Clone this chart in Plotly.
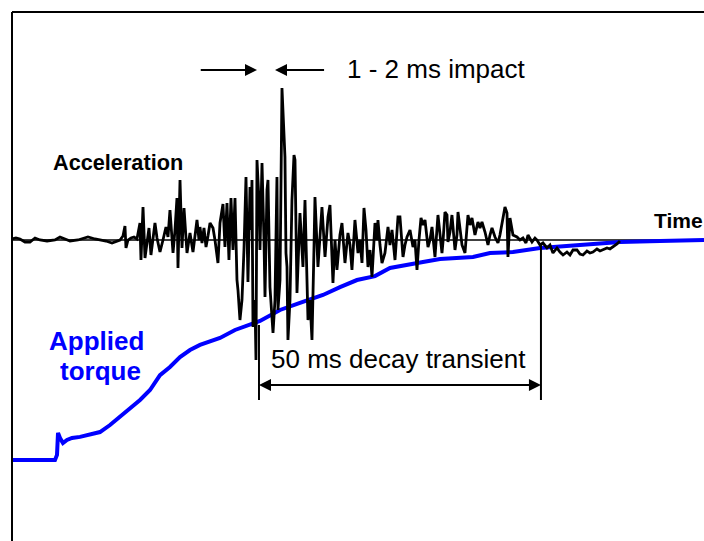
import plotly.graph_objects as go

# ---- Acceleration signal (time in ms, acceleration in arbitrary units) ----
accel_t = [0.00, 0.71, 1.42, 2.30, 3.19, 4.08, 4.96, 6.21, 7.62, 8.51, 9.40, 10.28, 11.70, 13.47, 14.72,
           15.60, 16.67, 17.73, 18.62, 19.15, 19.68, 20.03, 20.21, 20.57, 21.10, 21.63, 22.16, 22.69, 22.87,
           23.23, 23.58, 23.94, 24.29, 24.64, 25.00, 25.35, 25.71, 26.24, 26.77, 27.30, 27.66, 28.01, 28.55,
           28.90, 29.25, 29.43, 29.79, 30.14, 30.50, 31.03, 31.56, 32.09, 32.80, 33.16, 33.33, 33.69, 34.04,
           34.40, 34.75, 35.11, 35.64, 35.99, 36.52, 36.88, 37.41, 37.76, 38.12, 38.47, 38.83, 39.18, 39.54,
           39.89, 40.07, 40.42, 40.78, 41.13, 41.49, 41.84, 42.20, 42.37, 42.55, 42.73, 43.08, 43.26, 43.44,
           43.79, 43.97, 44.33, 44.68, 44.86, 45.21, 45.39, 45.74, 46.10, 46.28, 46.63, 46.98, 47.16, 47.52,
           47.87, 48.05, 48.40, 48.58, 48.76, 48.93, 49.29, 49.64, 50.00, 50.18, 50.53, 51.06, 51.59, 51.95,
           52.48, 52.84, 53.19, 53.54, 53.72, 54.25, 54.61, 54.96, 55.50, 56.03, 56.38, 56.74, 56.91, 57.27,
           57.62, 58.15, 58.51, 59.04, 59.57, 59.93, 60.28, 60.81, 61.35, 61.70, 62.06, 62.41, 62.77, 63.12,
           63.48, 63.83, 64.36, 64.72, 64.89, 65.25, 65.60, 66.13, 66.67, 67.02, 67.38, 67.91, 68.44, 68.79,
           69.15, 69.33, 69.68, 70.04, 70.57, 71.10, 71.45, 71.81, 72.16, 72.52, 72.87, 73.23, 73.76, 74.11,
           74.47, 75.00, 75.53, 75.89, 76.24, 76.42, 76.77, 77.13, 77.30, 77.66, 78.01, 78.55, 78.90, 79.08,
           79.43, 79.79, 80.32, 80.85, 81.21, 81.56, 82.09, 82.62, 82.98, 83.33, 83.87, 84.40, 84.75, 85.11,
           85.64, 86.17, 86.52, 86.88, 87.23, 87.41, 87.77, 87.94, 88.30, 88.65, 88.83, 89.54, 90.07, 90.60,
           91.13, 91.49, 92.20, 92.73, 93.09, 93.62, 94.15, 94.86, 95.39, 95.92, 96.63, 97.16, 97.70, 98.40,
           98.94, 99.47, 100.18, 100.71, 101.24, 101.95, 102.48, 103.01, 103.72, 104.26, 104.79, 105.50,
           106.03, 106.56, 107.27, 107.80]
accel_a = [0.1, 0.2, 0.1, -0.2, -0.2, 0.2, 0.0, -0.1, 0.0, 0.3, 0.1, -0.1, 0.0, 0.3, 0.1,
           0.0, -0.1, -0.3, -0.1, 0.0, 0.4, 1.4, -0.8, 0.0, 0.2, 0.3, 0.1, 1.7, -2.0,
           3.3, -1.8, 0.0, 1.2, -1.5, 0.4, 1.7, 0.2, -1.2, 0.0, 1.3, 0.3, 3.0, -1.3,
           1.0, 4.2, -2.8, 6.0, -0.8, 3.2, -1.3, 0.7, -1.2, 2.0, 0.0, 1.3, -0.3, 1.2,
           -0.7, 0.4, 1.7, 1.2, 0.0, -2.3, 1.7, 3.6, -0.7, 3.7, -2.0, 4.2, -1.0, 4.2,
           -4.0, -5.0, -8.0, -6.0, -1.0, 6.3, -4.2, 5.3, 1.0, 6.0, -8.7, -6.0, -12.0, 8.0,
           4.0, -1.0, 7.7, 0.0, -5.7, 5.0, 6.0, -4.7, -7.3, -9.3, -6.0, 6.3, -7.0, -4.0,
           15.2, 12.7, 8.3, -1.3, -2.7, -10.0, -6.0, 4.0, 8.5, 8.0, -5.3, 2.7, -2.7, 4.0,
           -8.0, -6.0, -10.0, -1.0, 4.3, -2.7, 0.0, 3.3, -1.7, 2.3, 3.5, -2.0, -4.3, 0.0,
           -3.0, 0.5, 1.7, -2.3, 0.7, -0.5, -3.0, 2.0, -1.3, 0.0, -2.3, 3.2, 1.0, -2.7,
           -1.0, -3.7, 1.7, 0.0, 2.0, -0.5, -2.3, -1.3, 1.3, -0.5, 1.0, -2.0, 2.3, 2.3,
           0.0, -1.7, -0.5, 0.3, 1.0, -0.7, 0.0, -3.0, 0.0, 2.2, 1.5, 2.0, -0.7, 0.0,
           1.3, -1.7, 2.5, 0.5, -1.3, -0.2, 2.8, 2.5, -0.2, 0.8, 2.5, -1.0, 0.5, 2.8,
           1.0, -0.5, -1.3, 2.5, 1.5, 2.2, 0.5, 1.8, 1.2, 1.8, 0.8, -0.5, 0.5, 1.2,
           0.3, -0.3, 0.5, 1.7, 3.0, 3.3, 2.7, -1.7, 2.2, 1.0, 0.5, 0.3, 0.0, 0.2,
           -0.3, 0.5, -0.2, 0.2, 0.0, -0.5, -0.3, -0.8, -0.5, -1.3, -0.8, -1.2, -1.5, -1.2,
           -1.5, -1.0, -1.0, -1.4, -1.5, -1.1, -1.3, -1.2, -0.9, -1.1, -1.0, -0.8,
           -0.9, -0.7, -0.4, -0.1]

# ---- Applied torque (time in ms, torque in % of final) ----
torque_t = [0.00, 7.62, 7.98, 8.16, 8.51, 9.04, 9.75, 10.64, 12.06, 13.83, 15.60, 17.38, 19.15, 20.92,
            22.70, 24.47, 25.35, 26.24, 28.01, 29.79, 31.56, 33.33, 36.88, 39.54, 43.97, 47.52, 51.06,
            55.14, 58.16, 61.17, 64.36, 67.02, 72.87, 75.89, 81.74, 84.75, 88.83, 93.62, 100.71, 107.80,
            114.89, 122.70]
torque_v = [0.0, 0.0, 2.3, 12.3, 10.0, 7.7, 9.1, 10.0, 10.5, 11.8, 12.7, 15.9, 19.5, 23.6,
            27.3, 31.8, 35.5, 38.6, 42.3, 46.8, 50.0, 52.3, 55.5, 59.1, 63.2, 68.2, 71.4,
            75.0, 78.6, 81.8, 83.6, 87.3, 90.0, 91.4, 92.3, 94.1, 94.5, 96.4, 97.7, 99.1,
            99.5, 100.0]

# ---- annotation values ----
impact_left = [33.2, 43.44]     # arrow from -> to (ms)
impact_right = [55.6, 46.63]
impact_level = 17.0
decay_start = 43.79
decay_ms = 50.0
decay_level = -14.5

FONT = "Liberation Sans, Arial, Helvetica, sans-serif"

fig = go.Figure()
fig.add_trace(go.Scatter(x=torque_t, y=torque_v, mode="lines",
                         line=dict(color="#0000FF", width=4), yaxis="y", hoverinfo="skip"))
fig.add_trace(go.Scatter(x=accel_t, y=accel_a, mode="lines",
                         line=dict(color="black", width=2.8), yaxis="y2", hoverinfo="skip"))

shapes = [
    dict(type="line", xref="paper", yref="paper", x0=0, x1=0, y0=0, y1=1,
         line=dict(color="black", width=2)),
    dict(type="line", xref="paper", yref="paper", x0=0, x1=1, y0=1, y1=1,
         line=dict(color="black", width=2)),
    dict(type="line", xref="paper", yref="y2", x0=0, x1=1, y0=0, y1=0,
         line=dict(color="black", width=1.5), layer="below"),
    dict(type="line", xref="x", yref="y2", x0=decay_start, x1=decay_start, y0=-8.5, y1=-16.0,
         line=dict(color="black", width=2)),
    dict(type="line", xref="x", yref="y2", x0=decay_start + decay_ms, x1=decay_start + decay_ms,
         y0=-0.5, y1=-16.0, line=dict(color="black", width=2)),
]

arrow = dict(text="", showarrow=True, arrowhead=2, arrowsize=1.2, arrowwidth=2,
             arrowcolor="black", xref="x", yref="y2", axref="x", ayref="y2")
decay_mid = decay_start + decay_ms / 2
annotations = [
    dict(arrow, x=impact_left[1], y=impact_level, ax=impact_left[0], ay=impact_level),
    dict(arrow, x=impact_right[1], y=impact_level, ax=impact_right[0], ay=impact_level),
    dict(arrow, x=decay_start, y=decay_level, ax=decay_mid + 3, ay=decay_level),
    dict(arrow, x=decay_start + decay_ms, y=decay_level, ax=decay_mid - 3, ay=decay_level),
    dict(text="1 - 2 ms impact", xref="paper", yref="paper", x=0.4812, y=0.8923,
         xanchor="left", yanchor="middle", showarrow=False,
         font=dict(family=FONT, size=26, color="black")),
    dict(text="<b>Acceleration</b>", xref="paper", yref="paper", x=0.0565, y=0.7155,
         xanchor="left", yanchor="middle", showarrow=False,
         font=dict(family=FONT, size=21.7, color="black")),
    dict(text="<b>Time</b>", xref="paper", yref="paper", x=0.9255, y=0.6058,
         xanchor="left", yanchor="middle", showarrow=False,
         font=dict(family=FONT, size=21, color="black")),
    dict(text="<b>Applied</b>", xref="paper", yref="paper", x=(96.5 - 12) / 692, y=(541 - 340.7) / 529,
         xanchor="center", yanchor="middle", showarrow=False,
         font=dict(family=FONT, size=26, color="#0000FF")),
    dict(text="<b>torque</b>", xref="paper", yref="paper", x=(100.5 - 12) / 692, y=(541 - 370.7) / 529,
         xanchor="center", yanchor="middle", showarrow=False,
         font=dict(family=FONT, size=26, color="#0000FF")),
    dict(text="50 ms decay transient", xref="paper", yref="paper", x=0.3714, y=0.3440,
         xanchor="left", yanchor="middle", showarrow=False,
         font=dict(family=FONT, size=26, color="black")),
]

fig.update_layout(
    width=704, height=541,
    margin=dict(l=12, r=0, t=12, b=0, pad=0),
    paper_bgcolor="white", plot_bgcolor="white",
    showlegend=False,
    xaxis=dict(range=[0, 122.7], visible=False, fixedrange=True),
    yaxis=dict(range=[-36.82, 203.64], visible=False, fixedrange=True),
    yaxis2=dict(range=[-30.1, 22.8], visible=False, overlaying="y", fixedrange=True),
    shapes=shapes,
    annotations=annotations,
)

fig.write_html("out.html", config={"displayModeBar": False},
               post_script="document.body.style.margin='0';document.body.style.overflow='hidden';")
